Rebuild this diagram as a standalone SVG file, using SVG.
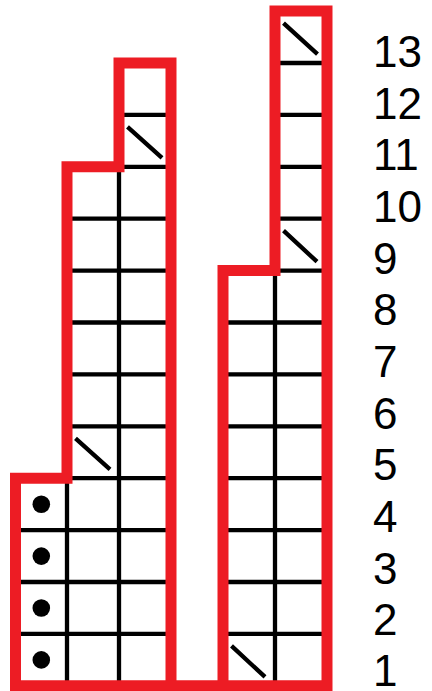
<svg xmlns="http://www.w3.org/2000/svg" width="432" height="691" viewBox="0 0 432 691">
<style>
.grid{stroke:#000;stroke-width:4.3;fill:none}
.slash{stroke:#000;stroke-width:4.3;fill:none}
.outline{stroke:#ED1C24;stroke-width:11;fill:none;stroke-linejoin:miter}
.dot{fill:#000}
.lbl{font-family:"Liberation Sans","Open Sans",sans-serif;font-size:44px;fill:#000}
</style>
<rect width="432" height="691" fill="#fff"/>
<g id="left-chart">
<path class="grid" d="M15.5,633.9H171M15.5,582H171M15.5,530.1H171M15.5,478.2H171M67,426.3H171M67,374.4H171M67,322.5H171M67,270.6H171M67,218.7H171M119,166.8H171M119,114.9H171M67,478.2V685.8M119,166.8V685.8"/>
<path class="slash" d="M75.5,438.3L110,469.3M127.5,126.9L162,157.9"/>
<circle class="dot" cx="41.3" cy="504.2" r="8.8"/>
<circle class="dot" cx="41.3" cy="556.1" r="8.8"/>
<circle class="dot" cx="41.3" cy="608" r="8.8"/>
<circle class="dot" cx="41.3" cy="659.9" r="8.8"/>
</g>
<g id="right-chart">
<path class="grid" d="M223,633.9H327M223,582H327M223,530.1H327M223,478.2H327M223,426.3H327M223,374.4H327M223,322.5H327M275,270.6H327M275,218.7H327M275,166.8H327M275,114.9H327M275,63H327M275,270.6V685.8"/>
<path class="slash" d="M231.5,645.9L265,676.9M283.5,230.7L317,261.7M283.5,23.1L317.5,54.1"/>
</g>
<g id="outline">
<path class="outline" d="M171,685.8V63H119V166.8H67V478.2H15.5V685.8H327V11.1H275V270.6H223V685.8"/>
</g>
<g id="labels">
<text class="lbl" x="373" y="686">1</text>
<text class="lbl" x="373" y="635.3">2</text>
<text class="lbl" x="373" y="583.7">3</text>
<text class="lbl" x="373" y="532">4</text>
<text class="lbl" x="373" y="480.3">5</text>
<text class="lbl" x="373" y="428.7">6</text>
<text class="lbl" x="373" y="377">7</text>
<text class="lbl" x="373" y="325.3">8</text>
<text class="lbl" x="373" y="273.6">9</text>
<text class="lbl" x="373" y="222">10</text>
<text class="lbl" x="373" y="170.3">11</text>
<text class="lbl" x="373" y="118.6">12</text>
<text class="lbl" x="373" y="67">13</text>
</g>
</svg>
